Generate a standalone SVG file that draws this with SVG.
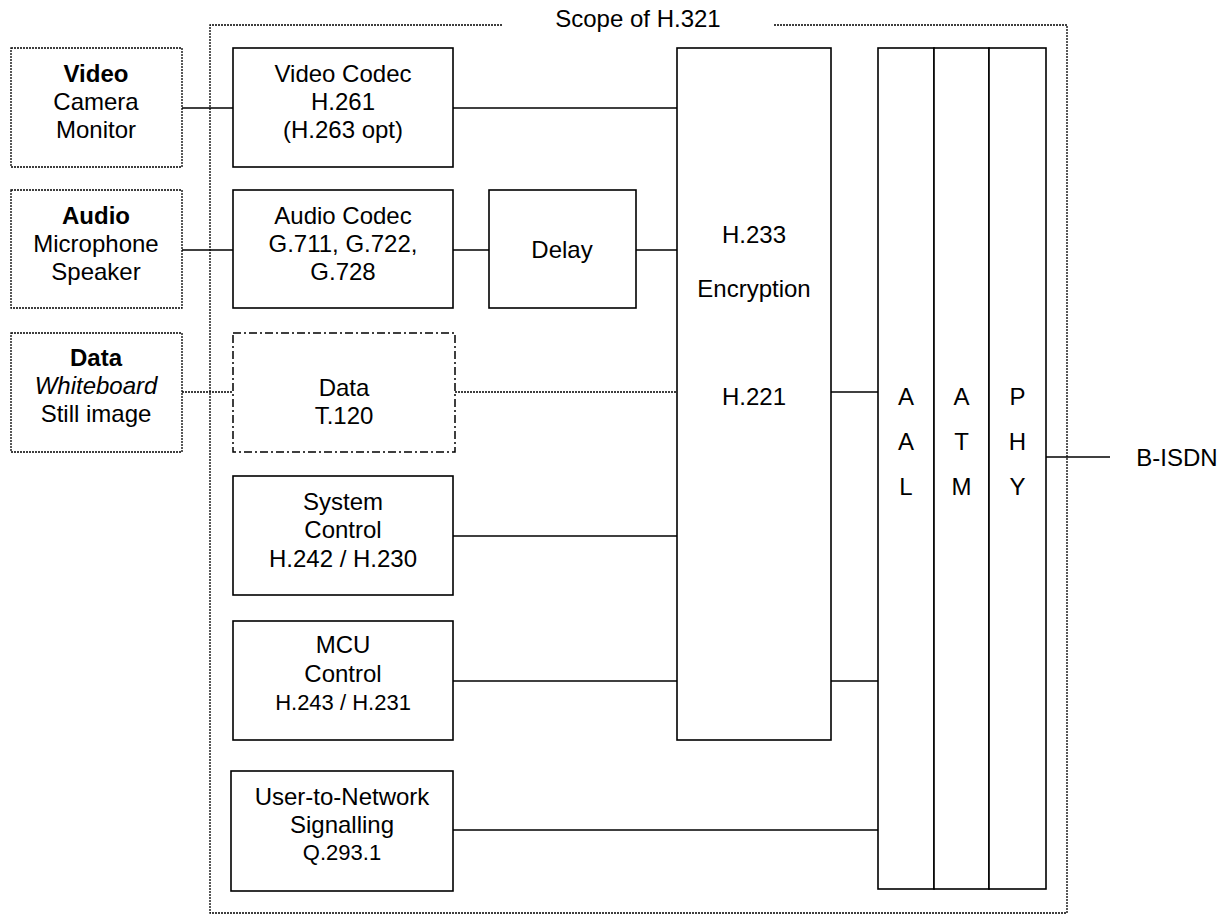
<svg xmlns="http://www.w3.org/2000/svg" width="1225" height="915" viewBox="0 0 1225 915">
<style>
text{font-family:"Liberation Sans",Arial,sans-serif;font-size:24px;fill:#000;text-anchor:middle}
.s{font-size:22px}
.b{font-weight:bold}
.i{font-style:italic}
.box{fill:#fff;stroke:#000;stroke-width:1.6}
.dot{fill:#fff;stroke:#000;stroke-width:1.3;stroke-dasharray:2 1}
.dd{fill:#fff;stroke:#000;stroke-width:1.5;stroke-dasharray:8 3 2 3}
.ln{stroke:#000;stroke-width:1.6;fill:none}
.ld{stroke:#000;stroke-width:1.3;stroke-dasharray:2 1;fill:none}
</style>
<rect width="1225" height="915" fill="#fff"/>
<g id="scope">
<path class="ld" d="M502 25 H210 V913 H1067 V25 H773"/>
<text x="638" y="27">Scope of H.321</text>
</g>
<g id="connectors">
<line class="ln" x1="182" y1="108" x2="233" y2="108"/>
<line class="ln" x1="453" y1="108" x2="677" y2="108"/>
<line class="ln" x1="182" y1="250" x2="233" y2="250"/>
<line class="ln" x1="453" y1="250" x2="489" y2="250"/>
<line class="ln" x1="636" y1="250" x2="677" y2="250"/>
<line class="ld" x1="182" y1="392" x2="233" y2="392"/>
<line class="ld" x1="455" y1="392" x2="677" y2="392"/>
<line class="ln" x1="453" y1="536" x2="677" y2="536"/>
<line class="ln" x1="453" y1="681" x2="677" y2="681"/>
<line class="ln" x1="831" y1="392" x2="878" y2="392" stroke-width="2.2"/>
<line class="ln" x1="831" y1="681" x2="878" y2="681"/>
<line class="ln" x1="453" y1="830" x2="878" y2="830"/>
<line class="ln" x1="1046" y1="457" x2="1110" y2="457"/>
</g>
<g id="video-io">
<rect class="dot" x="11" y="48" width="171" height="119"/>
<text x="96" y="82" class="b">Video</text>
<text x="96" y="110">Camera</text>
<text x="96" y="138">Monitor</text>
</g>
<g id="audio-io">
<rect class="dot" x="11" y="190" width="171" height="118"/>
<text x="96" y="224" class="b">Audio</text>
<text x="96" y="252">Microphone</text>
<text x="96" y="280">Speaker</text>
</g>
<g id="data-io">
<rect class="dot" x="11" y="333" width="171" height="119"/>
<text x="96" y="366" class="b">Data</text>
<text x="96" y="394" class="i">Whiteboard</text>
<text x="96" y="422">Still image</text>
</g>
<g id="video-codec">
<rect class="box" x="233" y="48" width="220" height="119"/>
<text x="343" y="82">Video Codec</text>
<text x="343" y="110">H.261</text>
<text x="343" y="138">(H.263 opt)</text>
</g>
<g id="audio-codec">
<rect class="box" x="233" y="190" width="220" height="118"/>
<text x="343" y="224">Audio Codec</text>
<text x="343" y="252">G.711, G.722,</text>
<text x="343" y="280">G.728</text>
</g>
<g id="delay">
<rect class="box" x="489" y="190" width="147" height="118"/>
<text x="562" y="258">Delay</text>
</g>
<g id="data-t120">
<rect class="dd" x="233" y="333" width="222" height="119"/>
<text x="344" y="396">Data</text>
<text x="344" y="424">T.120</text>
</g>
<g id="system-control">
<rect class="box" x="233" y="476" width="220" height="119"/>
<text x="343" y="510">System</text>
<text x="343" y="538">Control</text>
<text x="343" y="567">H.242 / H.230</text>
</g>
<g id="mcu-control">
<rect class="box" x="233" y="621" width="220" height="119"/>
<text x="343" y="653">MCU</text>
<text x="343" y="682">Control</text>
<text x="343" y="710" class="s">H.243 / H.231</text>
</g>
<g id="uns">
<rect class="box" x="231" y="771" width="222" height="120"/>
<text x="342" y="805">User-to-Network</text>
<text x="342" y="833">Signalling</text>
<text x="342" y="860" class="s">Q.293.1</text>
</g>
<g id="encryption">
<rect class="box" x="677" y="48" width="154" height="692"/>
<text x="754" y="243">H.233</text>
<text x="754" y="297">Encryption</text>
<text x="754" y="405">H.221</text>
</g>
<g id="aal">
<rect class="box" x="878" y="48" width="56" height="841"/>
<text x="906" y="405">A</text>
<text x="906" y="450">A</text>
<text x="906" y="495">L</text>
</g>
<g id="atm">
<rect class="box" x="934" y="48" width="55" height="841"/>
<text x="961.5" y="405">A</text>
<text x="961.5" y="450">T</text>
<text x="961.5" y="495">M</text>
</g>
<g id="phy">
<rect class="box" x="989" y="48" width="57" height="841"/>
<text x="1017.5" y="405">P</text>
<text x="1017.5" y="450">H</text>
<text x="1017.5" y="495">Y</text>
</g>
<g id="bisdn">
<text x="1177" y="466">B-ISDN</text>
</g>
</svg>
